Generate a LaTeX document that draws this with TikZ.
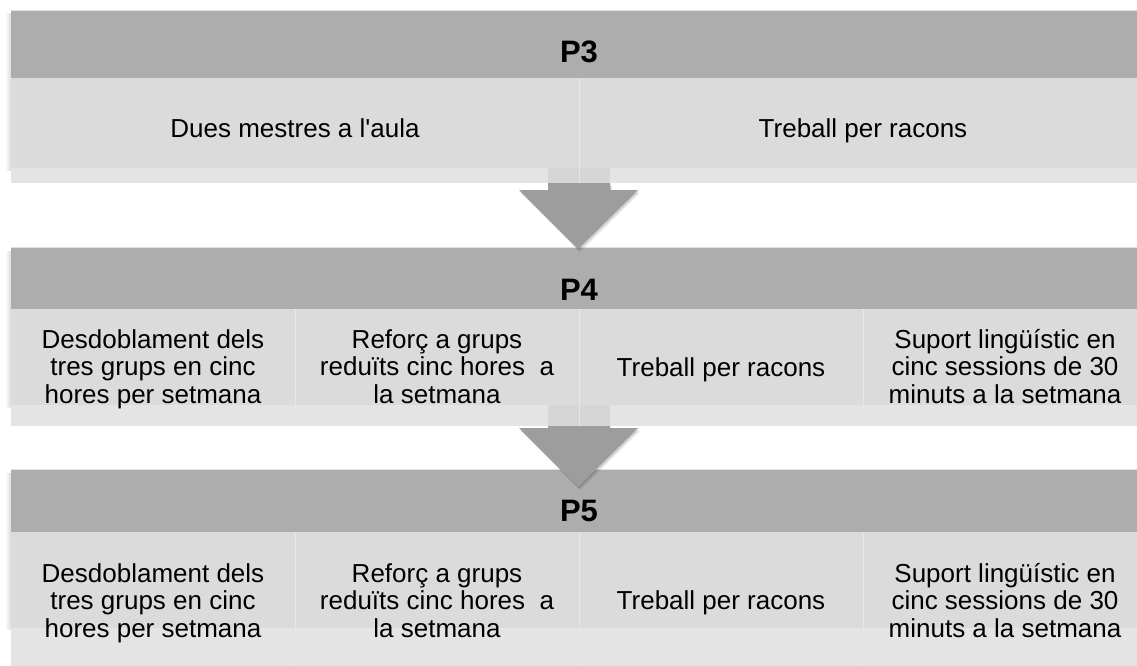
\documentclass[tikz,border=0pt]{standalone}
\usepackage{fontspec}
\setmainfont{Liberation Sans}
\definecolor{hdr}{HTML}{ADADAD}
\definecolor{cellc}{HTML}{DBDBDB}
\definecolor{band}{HTML}{E4E4E4}
\definecolor{divc}{HTML}{E6E6E6}
\definecolor{arr}{HTML}{9D9D9D}
\definecolor{stemc}{HTML}{D6D6D6}
\newcommand{\lsl}{\strut}
\begin{document}
\begin{tikzpicture}[x=1pt,y=-1pt,
  cell/.style={font=\fontsize{26}{27.5}\selectfont, align=center, inner sep=0pt},
  head/.style={font=\fontsize{31}{33}\selectfont\bfseries, anchor=base, inner sep=0pt},
  hdrbox/.style={fill=hdr},
  cellbox/.style={fill=cellc},
  bandbox/.style={fill=band},
  divline/.style={draw=divc, line width=1pt},
  leftshadow/.style={left color=white, right color=black!14},
  hdrline/.style={draw=white!88!black, line width=1pt},
  arrowshape/.style={fill=arr},
  arrowshadow/.style={fill=black, opacity=0.06}]
\useasboundingbox (0,0) rectangle (1137,666);
\clip (0,0) rectangle (1137,666);

% ---------- Block P3 ----------
\fill[leftshadow] (5,14) rectangle (11,170);
\fill[hdrbox] (11,11) rectangle (1147,78);
\draw[hdrline] (11,10.5) -- (1147,10.5);
\fill[cellbox] (11,78) rectangle (1147,168);
\fill[bandbox] (11,168) rectangle (548,183);
\fill[bandbox] (610,168) rectangle (1147,183);
\fill[stemc] (548,168) rectangle (610,183);
\draw[divline] (579,78) -- (579,183);
\node[head] (p3) at (579,63) {P3};
\node[cell, anchor=base] (p3a) at (295,138) {Dues mestres a l\textquotesingle aula};
\node[cell, anchor=base] (p3b) at (863,138) {Treball per racons};

% ---------- Block P4 ----------
\fill[leftshadow] (5,251) rectangle (11,407);
\fill[hdrbox] (11,248) rectangle (1147,309);
\draw[hdrline] (11,247.5) -- (1147,247.5);
\fill[cellbox] (11,309) rectangle (1147,405);
\fill[bandbox] (11,405) rectangle (548,426);
\fill[bandbox] (610,405) rectangle (1147,426);
\fill[stemc] (548,405) rectangle (610,426);
\foreach \xx in {295,579,863} \draw[divline] (\xx,309) -- (\xx,426);
\node[head] (p4) at (579,300) {P4};
\node[cell] (p4a) at (153,370) {\lsl Desdoblament dels\\\lsl tres grups en cinc\\\lsl hores per setmana};
\node[cell] (p4b) at (437,370) {\lsl Reforç a grups\\\lsl reduïts cinc hores\ \ a\\\lsl la setmana};
\node[cell] (p4c) at (721,371) {\lsl Treball per racons};
\node[cell] (p4d) at (1005,370) {\lsl Suport lingüístic en\\\lsl cinc sessions de 30\\\lsl minuts a la setmana};

% ---------- Block P5 ----------
\fill[leftshadow] (5,473) rectangle (11,629);
\fill[hdrbox] (11,470) rectangle (1147,532);
\draw[hdrline] (11,469.5) -- (1147,469.5);
\fill[cellbox] (11,532) rectangle (1147,628);
\fill[bandbox] (11,628) rectangle (1147,680);
\foreach \xx in {295,579,863} \draw[divline] (\xx,532) -- (\xx,680);
\node[head] (p5) at (579,521) {P5};
\node[cell] (p5a) at (153,604) {\lsl Desdoblament dels\\\lsl tres grups en cinc\\\lsl hores per setmana};
\node[cell] (p5b) at (437,604) {\lsl Reforç a grups\\\lsl reduïts cinc hores\ \ a\\\lsl la setmana};
\node[cell] (p5c) at (721,604) {\lsl Treball per racons};
\node[cell] (p5d) at (1005,604) {\lsl Suport lingüístic en\\\lsl cinc sessions de 30\\\lsl minuts a la setmana};

% ---------- Arrows ----------
\foreach \d in {1,2,3,4} {
  \fill[arrowshadow] ([shift={(\d*0.5,\d*0.8)}]548,183) -- ++(62,0) -- ++(0,7) -- ++(28,0) -- ++(-60,59) -- ++(-59,-59) -- ++(29,0) -- cycle;
  \fill[arrowshadow] ([shift={(\d*0.5,\d*0.8)}]548,426) -- ++(62,0) -- ++(0,2) -- ++(28,0) -- ++(-60,59) -- ++(-59,-59) -- ++(29,0) -- cycle;
}
\fill[arrowshape] (548,183) -- (610,183) -- (610,190) -- (638,190) -- (578,249) -- (519,190) -- (548,190) -- cycle;
\fill[arrowshape] (548,426) -- (610,426) -- (610,428) -- (638,428) -- (578,487) -- (519,428) -- (548,428) -- cycle;
\end{tikzpicture}
\end{document}
